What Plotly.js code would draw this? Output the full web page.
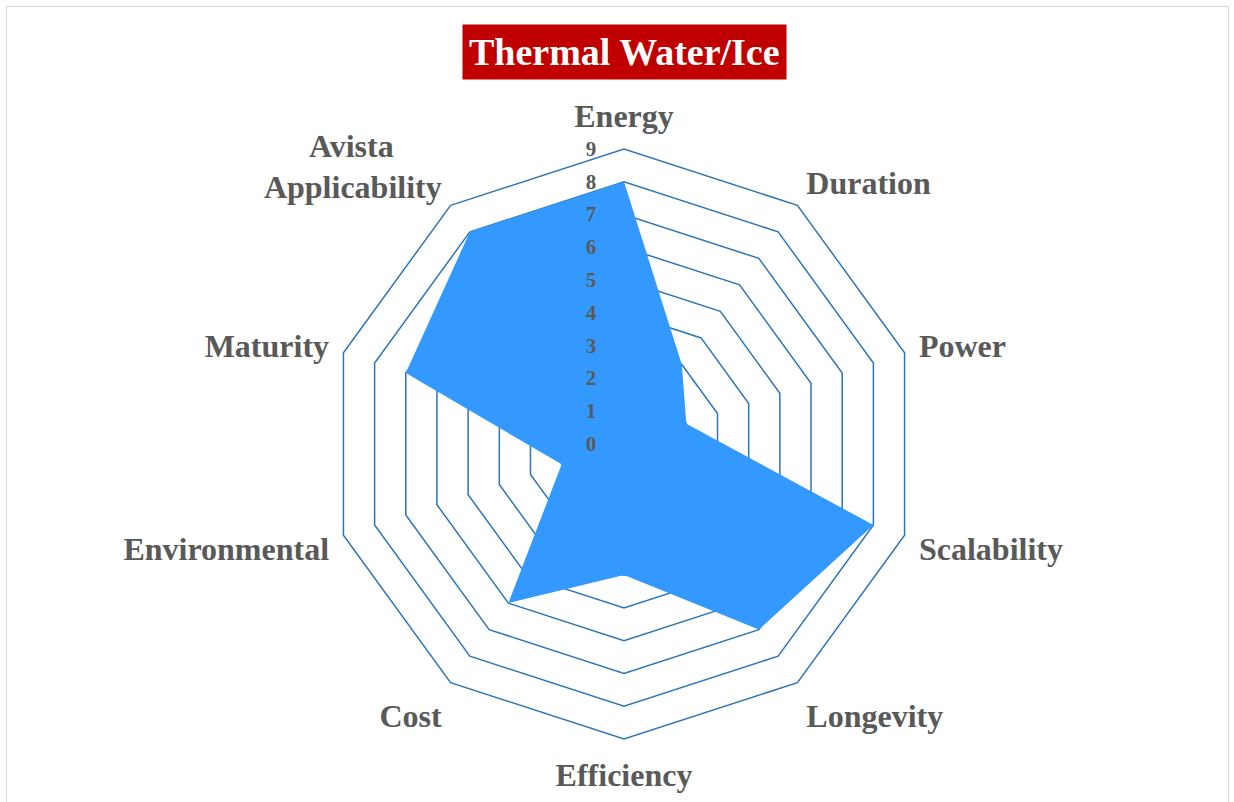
<!DOCTYPE html>
<html>
<head>
<meta charset="utf-8">
<script src="https://cdn.plot.ly/plotly-3.0.1.min.js"></script>
<style>
  html, body { margin: 0; padding: 0; background: #ffffff; }
  #wrap { position: relative; width: 1234px; height: 802px; overflow: hidden; }
  #chart { width: 1234px; height: 802px; }
  #frame { position: absolute; left: 6px; top: 6px; width: 1223px; height: 820px;
           border: 1.5px solid #D9D9D9; pointer-events: none; box-sizing: border-box; }
</style>
</head>
<body>
<div id="wrap">
  <div id="chart"></div>
  <div id="frame"></div>
</div>
<script>
const categories = ["Energy", "Duration", "Power", "Scalability", "Longevity",
                    "Efficiency", "Cost", "Environmental", "Maturity",
                    "Avista&nbsp;&nbsp;&nbsp;&nbsp;&nbsp;&nbsp;<br>Applicability"];
const scores = [8, 3, 2, 8, 7, 4, 6, 2, 7, 8];
const radialTicks = [0, 1, 2, 3, 4, 5, 6, 7, 8, 9];
const chartTitle = "Thermal Water/Ice";

const gridColor = "#2E75B6";
const labelFont = "'Palatino Linotype', 'Book Antiqua', 'Liberation Serif', 'DejaVu Serif', serif";

const trace = {
  type: "scatterpolar",
  r: scores.concat([scores[0]]),
  theta: categories.concat([categories[0]]),
  fill: "toself",
  fillcolor: "#3399FF",
  line: { color: "#3399FF", width: 0 },
  mode: "lines",
  hoverinfo: "r+theta"
};

const layout = {
  width: 1234,
  height: 802,
  margin: { l: 100, r: 86, t: 149, b: 63 },
  paper_bgcolor: "#ffffff",
  showlegend: false,
  polar: {
    bgcolor: "rgba(0,0,0,0)",
    gridshape: "linear",
    domain: { x: [0, 1], y: [0, 1] },
    radialaxis: {
      range: [0, 9],
      tickvals: radialTicks,
      ticktext: radialTicks.map(String),
      angle: 90,
      tickangle: 90,
      side: "counterclockwise",
      showline: false,
      ticks: "outside",
      ticklen: 20,
      tickcolor: "rgba(0,0,0,0)",
      showgrid: true,
      gridcolor: gridColor,
      gridwidth: 1.5,
      tickfont: { family: labelFont, size: 21, color: "#595959", weight: "bold" },
      layer: "above traces"
    },
    angularaxis: {
      direction: "clockwise",
      rotation: 90,
      showgrid: false,
      showline: true,
      linecolor: gridColor,
      linewidth: 1.5,
      ticks: "outside",
      ticklen: 8,
      tickcolor: "rgba(0,0,0,0)",
      tickfont: { family: labelFont, size: 32, color: "#595959", weight: "bold" }
    }
  },
  annotations: [{
    xref: "paper", yref: "paper",
    x: 0.5, y: 1,
    yshift: 97,
    xanchor: "center", yanchor: "middle",
    text: "<b>" + chartTitle + "</b>",
    showarrow: false,
    bgcolor: "#C00000",
    borderpad: 6,
    font: { family: labelFont, size: 38, color: "#ffffff" }
  }]
};

Plotly.newPlot("chart", [trace], layout, { displayModeBar: false, staticPlot: true });
</script>
</body>
</html>
